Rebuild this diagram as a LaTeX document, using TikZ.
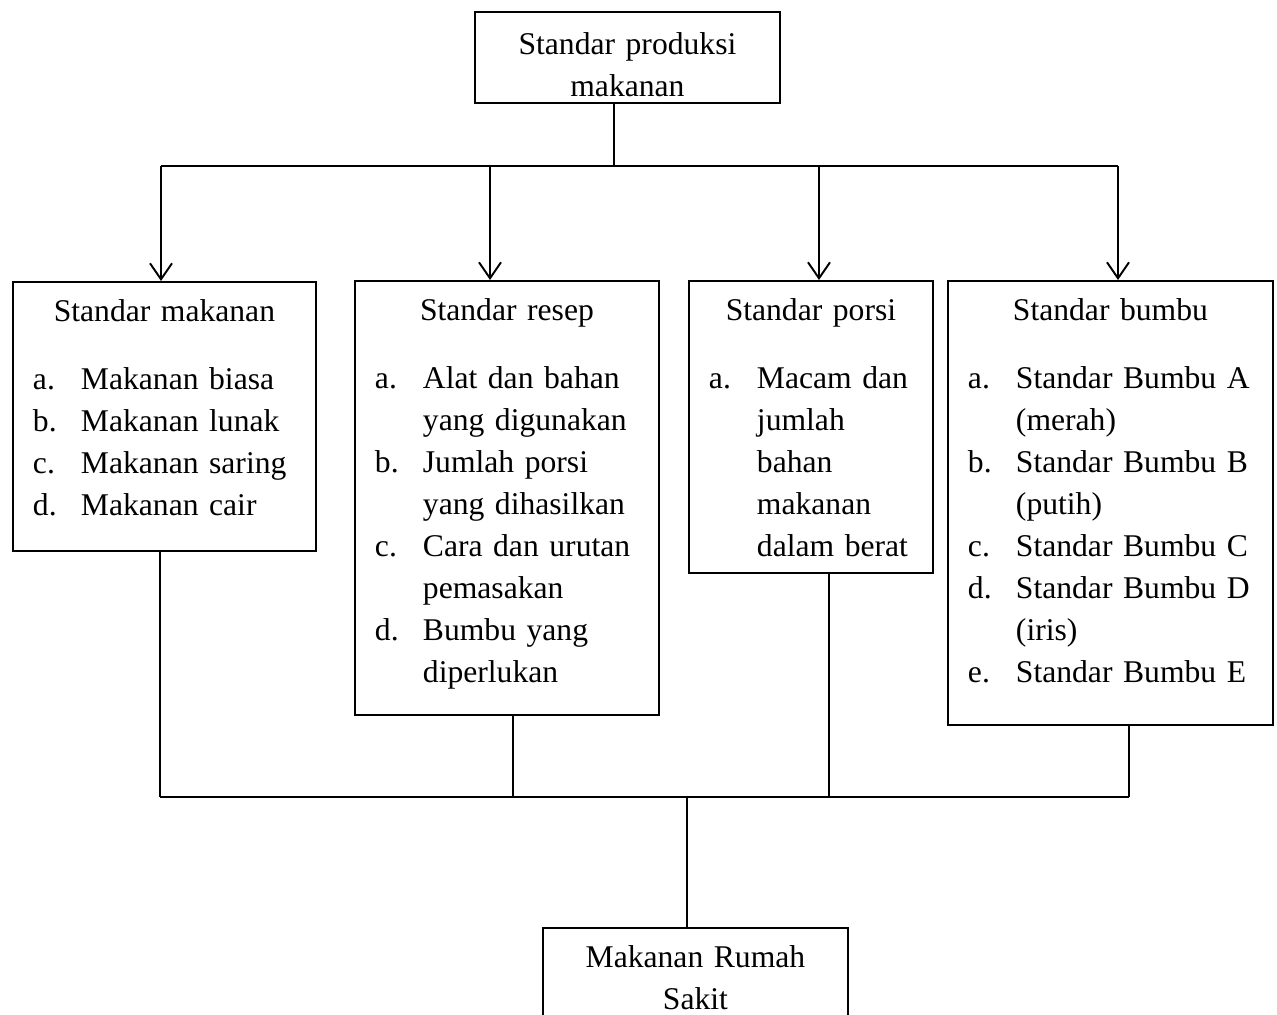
\documentclass[tikz,border=0pt]{standalone}
\usepackage{fontspec}
\setmainfont{Liberation Serif}
\usetikzlibrary{arrows.meta}
\tikzstyle{standar} = [rectangle,
draw=black,
anchor=north west,
align=left,
inner xsep=0.4cm,
inner ysep=0pt,
text height=0.79cm,
font=\fontsize{18}{23.9}\selectfont]
\tikzstyle{judul} = [rectangle,
draw=black,
anchor=north west,
align=center,
inner xsep=0pt,
inner ysep=0pt,
text width=6.1cm,
font=\fontsize{18}{23.9}\selectfont]

\begin{document}
\begin{tikzpicture}[x=0.02cm, y=-0.02cm, line width=1.1pt,
    >={Straight Barb[length=0.32cm, width=0.44cm]}
    ]
    \useasboundingbox (0,0) rectangle (1277,1014);

    \node (produksi) [judul, text height=0.86cm, text depth=0.96cm] at (474,11) {Standar produksi\\ makanan};

    \node (makanan) [standar, text width=5.26cm, text depth=4.59cm] at (12,281) {\centerline{Standar makanan}\par\vspace{14.8pt}
    \begin{tabular}[t]{@{}p{0.96cm}@{}l@{}}
    a. & Makanan biasa\\
    b. & Makanan lunak\\
    c. & Makanan saring\\
    d. & Makanan cair
    \end{tabular}};

    \node (resep) [standar, text width=5.28cm, text depth=7.89cm] at (354,280) {\centerline{Standar resep}\par\vspace{14.8pt}
    \begin{tabular}[t]{@{}p{0.96cm}@{}l@{}}
    a. & Alat dan bahan\\
       & yang digunakan\\
    b. & Jumlah porsi\\
       & yang dihasilkan\\
    c. & Cara dan urutan\\
       & pemasakan\\
    d. & Bumbu yang\\
       & diperlukan
    \end{tabular}};

    \node (porsi) [standar, text width=4.08cm, text depth=5.05cm] at (688,280) {\centerline{Standar porsi}\par\vspace{14.8pt}
    \begin{tabular}[t]{@{}p{0.96cm}@{}l@{}}
    a. & Macam dan\\
       & jumlah\\
       & bahan\\
       & makanan\\
       & dalam berat
    \end{tabular}};

    \node (bumbu) [standar, text width=5.7cm, text depth=8.09cm] at (947,280) {\centerline{Standar bumbu}\par\vspace{14.8pt}
    \begin{tabular}[t]{@{}p{0.96cm}@{}l@{}}
    a. & Standar Bumbu A\\
       & (merah)\\
    b. & Standar Bumbu B\\
       & (putih)\\
    c. & Standar Bumbu C\\
    d. & Standar Bumbu D\\
       & (iris)\\
    e. & Standar Bumbu E
    \end{tabular}};

    \node (rs) [judul, text height=0.8cm, text depth=2cm] at (542,927) {Makanan Rumah\\ Sakit};

    % top arrows
    % split nodes
    \coordinate (split) at (614,166);
    \coordinate (split1) at (161,166);
    \coordinate (split2) at (490,166);
    \coordinate (split3) at (819,166);
    \coordinate (split4) at (1118,166);

    \draw (produksi.south -| split) -- (split);
    \draw (split1) -- (split4);
    \draw[->] (split1) -- (makanan.north -| split1);
    \draw[->] (split2) -- (resep.north -| split2);
    \draw[->] (split3) -- (porsi.north -| split3);
    \draw[->] (split4) -- (bumbu.north -| split4);

    % bottom lines
    \coordinate (join) at (687,797);
    \coordinate (join1) at (160,797);
    \coordinate (join2) at (513,797);
    \coordinate (join3) at (829,797);
    \coordinate (join4) at (1129,797);

    \draw (makanan.south -| join1) -- (join1);
    \draw (resep.south -| join2) -- (join2);
    \draw (porsi.south -| join3) -- (join3);
    \draw (bumbu.south -| join4) -- (join4);
    \draw (join1) -- (join4);
    \draw (join) -- (rs.north -| join);

\end{tikzpicture}
\end{document}
